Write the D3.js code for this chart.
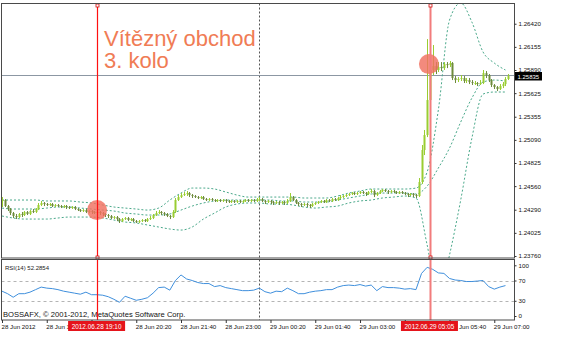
<!DOCTYPE html>
<html><head><meta charset="utf-8">
<script src="https://cdn.jsdelivr.net/npm/d3@7"></script>
<style>body{margin:0;background:#fff}svg{display:block}text{font-family:"Liberation Sans",Arial,sans-serif}</style>
</head><body><svg id="c" width="565" height="357"></svg>
<script>
// ---------- DATA ----------
const startTime = "2012-06-28 16:20";
const barMinutes = 5;
const firstOpen = 1.24390;
const closes = [
1.24401,1.24332,1.24298,1.24252,1.24218,1.24206,1.24241,1.24229,1.24264,1.24241,
1.24275,1.24264,1.24298,1.24344,1.24367,1.24355,1.24344,1.24355,1.24332,1.24344,
1.24332,1.24321,1.24332,1.24321,1.24309,1.24321,1.24298,1.24286,1.24275,1.24286,
1.24264,1.24275,1.24264,1.24252,1.24264,1.24252,1.24241,1.24229,1.24218,1.24195,
1.24206,1.24183,1.24160,1.24183,1.24195,1.24172,1.24183,1.24160,1.24149,1.24160,
1.24172,1.24160,1.24183,1.24195,1.24229,1.24252,1.24264,1.24252,1.24241,1.24218,
1.24206,1.24264,1.24401,1.24435,1.24458,1.24470,1.24481,1.24458,1.24447,1.24435,
1.24424,1.24435,1.24412,1.24401,1.24412,1.24401,1.24390,1.24401,1.24390,1.24401,
1.24390,1.24378,1.24390,1.24378,1.24390,1.24378,1.24390,1.24401,1.24390,1.24401,
1.24390,1.24401,1.24412,1.24390,1.24378,1.24390,1.24378,1.24367,1.24378,1.24367,
1.24378,1.24367,1.24390,1.24435,1.24401,1.24367,1.24355,1.24344,1.24355,1.24344,
1.24332,1.24355,1.24367,1.24378,1.24390,1.24378,1.24401,1.24390,1.24412,1.24401,
1.24424,1.24435,1.24447,1.24458,1.24470,1.24481,1.24470,1.24481,1.24493,1.24481,
1.24470,1.24493,1.24504,1.24458,1.24481,1.24504,1.24516,1.24504,1.24493,1.24504,
1.24493,1.24481,1.24493,1.24481,1.24470,1.24458,1.24470,1.24458,1.24447,1.24607,
1.24974,1.25145,1.25546,1.25890,1.25935,1.25890,1.25924,1.25913,1.25958,1.25947,
1.25970,1.25798,1.25775,1.25787,1.25798,1.25764,1.25775,1.25752,1.25741,1.25741,
1.25729,1.25741,1.25855,1.25832,1.25775,1.25718,1.25695,1.25672,1.25706,1.25729,
1.25787,1.25821];
const highs = [
1.24435,1.24412,1.24344,1.24309,1.24264,1.24241,1.24252,1.24264,1.24275,1.24275,
1.24286,1.24298,1.24309,1.24367,1.24390,1.24378,1.24367,1.24367,1.24367,1.24355,
1.24355,1.24344,1.24344,1.24344,1.24332,1.24332,1.24332,1.24309,1.24298,1.24298,
1.24298,1.24286,1.24286,1.24275,1.24275,1.24275,1.24264,1.24252,1.24241,1.24229,
1.24218,1.24218,1.24195,1.24195,1.24206,1.24206,1.24195,1.24195,1.24172,1.24172,
1.24183,1.24183,1.24195,1.24218,1.24241,1.24275,1.24286,1.24275,1.24264,1.24252,
1.24229,1.24286,1.24424,1.24458,1.24481,1.24493,1.24504,1.24493,1.24470,1.24458,
1.24447,1.24447,1.24447,1.24424,1.24424,1.24424,1.24412,1.24412,1.24412,1.24412,
1.24412,1.24401,1.24401,1.24401,1.24401,1.24401,1.24401,1.24412,1.24412,1.24412,
1.24412,1.24424,1.24435,1.24424,1.24401,1.24401,1.24401,1.24390,1.24390,1.24390,
1.24390,1.24390,1.24412,1.24481,1.24447,1.24412,1.24378,1.24367,1.24367,1.24367,
1.24355,1.24367,1.24378,1.24390,1.24401,1.24401,1.24412,1.24412,1.24424,1.24424,
1.24435,1.24458,1.24458,1.24470,1.24481,1.24493,1.24493,1.24493,1.24504,1.24504,
1.24493,1.24504,1.24527,1.24516,1.24493,1.24516,1.24527,1.24527,1.24516,1.24516,
1.24516,1.24504,1.24504,1.24504,1.24493,1.24481,1.24481,1.24481,1.24470,1.24653,
1.25031,1.25203,1.26244,1.26061,1.26176,1.25981,1.25981,1.25981,1.25981,1.25981,
1.25993,1.25981,1.25821,1.25809,1.25832,1.25821,1.25798,1.25798,1.25775,1.25764,
1.25752,1.25775,1.25890,1.25878,1.25844,1.25787,1.25729,1.25706,1.25729,1.25752,
1.25809,1.25844];
const lows = [
1.24321,1.24321,1.24275,1.24229,1.24195,1.24183,1.24195,1.24206,1.24218,1.24229,
1.24229,1.24252,1.24252,1.24286,1.24332,1.24332,1.24332,1.24332,1.24321,1.24321,
1.24321,1.24309,1.24309,1.24298,1.24298,1.24298,1.24286,1.24275,1.24264,1.24264,
1.24252,1.24252,1.24241,1.24241,1.24241,1.24229,1.24218,1.24206,1.24195,1.24183,
1.24183,1.24160,1.24138,1.24149,1.24172,1.24160,1.24160,1.24149,1.24138,1.24138,
1.24149,1.24149,1.24149,1.24172,1.24183,1.24218,1.24241,1.24229,1.24218,1.24206,
1.24183,1.24195,1.24252,1.24390,1.24424,1.24447,1.24447,1.24435,1.24424,1.24424,
1.24412,1.24412,1.24401,1.24390,1.24390,1.24390,1.24378,1.24378,1.24378,1.24378,
1.24367,1.24367,1.24367,1.24367,1.24367,1.24367,1.24367,1.24378,1.24378,1.24378,
1.24378,1.24378,1.24390,1.24378,1.24355,1.24367,1.24355,1.24344,1.24355,1.24344,
1.24355,1.24344,1.24355,1.24378,1.24390,1.24355,1.24332,1.24321,1.24332,1.24321,
1.24309,1.24321,1.24344,1.24355,1.24367,1.24367,1.24367,1.24378,1.24378,1.24390,
1.24390,1.24412,1.24424,1.24435,1.24447,1.24458,1.24458,1.24458,1.24470,1.24470,
1.24447,1.24458,1.24481,1.24435,1.24447,1.24470,1.24493,1.24493,1.24470,1.24481,
1.24481,1.24470,1.24470,1.24470,1.24458,1.24435,1.24447,1.24435,1.24424,1.24435,
1.24584,1.24916,1.25122,1.25523,1.25832,1.25844,1.25867,1.25878,1.25890,1.25912,
1.25924,1.25775,1.25741,1.25752,1.25764,1.25741,1.25741,1.25729,1.25718,1.25718,
1.25706,1.25718,1.25729,1.25798,1.25752,1.25695,1.25672,1.25649,1.25661,1.25683,
1.25706,1.25775];

// Bollinger bands, one value every 4 bars
const bandStep = 4;
const upperBand = [
1.24401,1.24401,1.24401,1.24401,1.24390,1.24390,1.24390,1.24378,1.24367,1.24344,
1.24321,1.24309,1.24298,1.24286,1.24309,1.24401,1.24481,1.24538,1.24538,1.24527,
1.24493,1.24458,1.24435,1.24435,1.24435,1.24435,1.24435,1.24424,1.24424,1.24424,
1.24447,1.24481,1.24504,1.24527,1.24527,1.24527,1.24527,1.24538,1.24722,1.25432,
1.26462,1.26657,1.26439,1.26096,1.25970,1.25890];
const middleBand = [
1.24309,1.24298,1.24298,1.24298,1.24309,1.24321,1.24321,1.24309,1.24298,1.24286,
1.24275,1.24252,1.24241,1.24229,1.24229,1.24241,1.24286,1.24332,1.24367,1.24390,
1.24401,1.24401,1.24401,1.24401,1.24401,1.24390,1.24390,1.24378,1.24378,1.24378,
1.24401,1.24424,1.24447,1.24470,1.24481,1.24481,1.24481,1.24470,1.24561,1.24767,
1.24996,1.25294,1.25569,1.25752,1.25775,1.25764];
const lowerBand = [
1.24218,1.24195,1.24183,1.24183,1.24183,1.24195,1.24206,1.24206,1.24206,1.24195,
1.24172,1.24149,1.24138,1.24115,1.24092,1.24069,1.24057,1.24092,1.24183,1.24252,
1.24321,1.24355,1.24367,1.24367,1.24355,1.24355,1.24344,1.24321,1.24309,1.24321,
1.24332,1.24367,1.24390,1.24401,1.24424,1.24435,1.24447,1.24424,1.23886,1.23256,
1.23771,1.24401,1.25111,1.25615,1.25638,1.25638];

// RSI(14), one value every 2 bars
const rsiStep = 2;
const rsiValues = [
49,44,37,44,44,47,52,57,55,54,
52,49,47,45,43,47,42,42,41,38,
33,27,39,35,31,33,36,45,56,57,
51,70,81,73,70,66,64,64,58,60,
56,54,52,50,50,51,55,48,45,49,
48,55,50,44,44,47,49,50,52,52,
57,60,61,60,62,59,61,50,58,56,
56,55,53,54,52,84,96,92,85,84,
74,71,70,68,68,69,70,58,53,57,60];

const priceTicks = [1.26420,1.26155,1.25890,1.25625,1.25355,1.25090,1.24825,1.24560,1.24290,1.24025,1.23760];
const priceTickLabels = ["1.26420","1.26155","1.25890","1.25625","1.25355","1.25090","1.24825","1.24560","1.24290","1.24025","1.23760"];
const rsiTicks = [100,70,30,0];
const rsiTickLabels = ["100","70","30","0"];
const rsiLevels = [70,30];
const timeTicks = ["2012-06-28 16:20","2012-06-28 17:40","2012-06-28 19:00","2012-06-28 20:20","2012-06-28 21:40","2012-06-28 23:00",
                   "2012-06-29 00:20","2012-06-29 01:40","2012-06-29 03:00","2012-06-29 04:20","2012-06-29 05:40","2012-06-29 07:00"];
// labels as visible in the picture (partly hidden behind the red time markers)
const timeTickLabels = ["28 Jun 2012","28 Jun 1","","28 Jun 20:20","28 Jun 21:40","28 Jun 23:00",
                        "29 Jun 00:20","29 Jun 01:40","29 Jun 03:00","","Jun 05:40","29 Jun 07:00"];
const daySeparators = ["2012-06-29 00:00"];
const currentPrice = 1.25832;
const currentPriceLabel = "1.25835";
const markerTimes = ["2012-06-28 19:10","2012-06-29 05:05"];
const markerLabels = ["2012.06.28 19:10","2012.06.29 05:05"];
const markerPrices = [1.24286, 1.25958];
const rsiLabel = "RSI(14) 52.2854";
const copyright = "BOSSAFX, \u00a9 2001-2012, MetaQuotes Software Corp.";
const titleLines = ["Vítězný obchod","3. kolo"];

// ---------- LAYOUT ----------
const W = 565, H = 357;
const L = 1.5, R = 514.5, mainTop = 3.5, mainBot = 258, rsiTop = 259.5, rsiBot = 320;
const parse = d3.timeParse("%Y-%m-%d %H:%M");
const t0 = parse(startTime);
const tAt = i => new Date(t0.getTime() + i * barMinutes * 60000);
const n = closes.length;
const x = d3.scaleTime().domain([t0, tAt(n - 1)]).range([2, 2 + (n - 1) * 2.797]);
const bx = i => x(tAt(i));
const y = d3.scaleLinear().domain([1.23737, 1.26646]).range([258, 4]);
const ry = d3.scaleLinear().domain([0, 100]).range([316, 265.3]);

const svg = d3.select("#c");
svg.append("rect").attr("width", W).attr("height", H).attr("fill", "#fff");
const defs = svg.append("defs");
defs.append("clipPath").attr("id", "mainClip").append("rect")
  .attr("x", L).attr("y", mainTop).attr("width", R - L).attr("height", mainBot - mainTop);
defs.append("clipPath").attr("id", "rsiClip").append("rect")
  .attr("x", L).attr("y", rsiTop).attr("width", R - L).attr("height", rsiBot - rsiTop);

// day separator
daySeparators.forEach(s => {
  const xs = Math.round(x(parse(s))) + 0.5;
  svg.append("line").attr("x1", xs).attr("x2", xs).attr("y1", mainTop).attr("y2", rsiBot)
    .attr("stroke", "#555").attr("stroke-dasharray", "2,2");
});

// current price line
const pY = Math.round(y(currentPrice)) + 0.5;
svg.append("line").attr("x1", L).attr("x2", R).attr("y1", pY).attr("y2", pY).attr("stroke", "#8c97a3");

// title
titleLines.forEach((t, i) => {
  svg.append("text").attr("x", 104).attr("y", 45.7 + i * 22.6).attr("font-size", 22)
    .attr("fill", "#f07c55").text(t);
});

const main = svg.append("g").attr("clip-path", "url(#mainClip)");

// bands
const bandLine = d3.line().x((d, k) => bx(k * bandStep)).y(d => y(d)).curve(d3.curveMonotoneX);
[upperBand, middleBand, lowerBand].forEach(b => {
  main.append("path").attr("d", bandLine(b)).attr("fill", "none")
    .attr("stroke", "#4aa88a").attr("stroke-width", 1).attr("stroke-dasharray", "2,2");
});

// candles
const bull = "#9acd32", bear = "#6e8b3d";
closes.forEach((c, i) => {
  const o = i ? closes[i - 1] : firstOpen;
  const cx = Math.round(bx(i));
  const col = c >= o ? bull : bear;
  main.append("line").attr("x1", cx + 0.5).attr("x2", cx + 0.5)
    .attr("y1", y(highs[i])).attr("y2", y(lows[i])).attr("stroke", col);
  const top = y(Math.max(o, c)), bot = y(Math.min(o, c));
  main.append("rect").attr("x", cx - 0.5).attr("width", 2)
    .attr("y", top).attr("height", Math.max(1, bot - top)).attr("fill", col);
});

// marker circles
markerTimes.forEach((t, i) => {
  main.append("circle").attr("cx", x(parse(t)) - (i ? 1 : 0)).attr("cy", y(markerPrices[i])).attr("r", 10)
    .attr("fill", "#f07060").attr("opacity", 0.82);
});

// RSI
svg.append("g").selectAll("line").data(rsiLevels).join("line")
  .attr("x1", L).attr("x2", R).attr("y1", d => Math.round(ry(d)) + 0.5).attr("y2", d => Math.round(ry(d)) + 0.5)
  .attr("stroke", "#b4b4b4").attr("stroke-dasharray", "3,3");
svg.append("path").attr("clip-path", "url(#rsiClip)")
  .attr("d", d3.line().x((d, k) => bx(k * rsiStep)).y(d => ry(d))(rsiValues))
  .attr("fill", "none").attr("stroke", "#3f8fdc").attr("stroke-width", 1);
svg.append("text").attr("x", 5).attr("y", 269.5).attr("font-size", 6).attr("fill", "#222").text(rsiLabel);
svg.append("text").attr("x", 3).attr("y", 317).attr("font-size", 7.6).attr("fill", "#111").text(copyright);

// marker vertical lines
markerTimes.forEach((t, i) => {
  const mx = Math.round(x(parse(t))) + 0.5;
  const col = i ? "#f27c7c" : "#ff1010";
  svg.append("line").attr("x1", mx).attr("x2", mx).attr("y1", mainTop).attr("y2", rsiBot)
    .attr("stroke", col).attr("stroke-width", i ? 2 : 1.2);
  [mainTop + 0.5, mainBot - 2].forEach(sy => {
    svg.append("rect").attr("x", mx - 1.5).attr("y", sy).attr("width", 3).attr("height", 3)
      .attr("fill", "#fff").attr("stroke", "#d01010").attr("stroke-width", 0.8);
  });
});

// panel borders
svg.append("rect").attr("x", L).attr("y", mainTop).attr("width", R - L).attr("height", mainBot - mainTop)
  .attr("fill", "none").attr("stroke", "#4a4a4a");
svg.append("rect").attr("x", L).attr("y", rsiTop).attr("width", R - L).attr("height", rsiBot - rsiTop)
  .attr("fill", "none").attr("stroke", "#4a4a4a");

// axes
function styleAxis(g) {
  g.select(".domain").remove();
  g.selectAll("line").attr("stroke", "#333");
  g.selectAll("text").attr("font-size", 6.2).attr("fill", "#111")
    .attr("font-family", '"Liberation Sans",Arial,sans-serif');
}
svg.append("g").attr("transform", `translate(${R},0)`)
  .call(d3.axisRight(y).tickValues(priceTicks).tickFormat((d, i) => priceTickLabels[i]).tickSize(2).tickPadding(2))
  .call(styleAxis);
svg.append("g").attr("transform", `translate(${R},0)`)
  .call(d3.axisRight(ry).tickValues(rsiTicks).tickFormat((d, i) => rsiTickLabels[i]).tickSize(2).tickPadding(2))
  .call(styleAxis);

// marker label boxes (x extents)
const boxW = 57;
const boxes = markerTimes.map(t => { const mx = x(parse(t)); return [mx - 29, mx - 29 + boxW]; });

const xg = svg.append("g").attr("transform", `translate(0,${rsiBot})`)
  .call(d3.axisBottom(x).tickValues(timeTicks.map(parse)).tickFormat((d, i) => timeTickLabels[i]).tickSize(3).tickPadding(2))
  .call(styleAxis);
xg.selectAll(".tick").each(function (d) {
  const tx = x(d);
  const b = boxes.find(bb => tx >= bb[0] && tx <= bb[1]);
  d3.select(this).select("text").attr("text-anchor", "start").attr("x", b ? b[1] - tx + 0.5 : -1);
});

// current price box
svg.append("rect").attr("x", R + 0.5).attr("y", pY - 3.5).attr("width", 27).attr("height", 8.5).attr("fill", "#000");
svg.append("text").attr("x", R + 3).attr("y", pY + 3.2).attr("font-size", 6).attr("fill", "#fff").text(currentPriceLabel);

// marker time labels
markerTimes.forEach((t, i) => {
  const mx = x(parse(t));
  svg.append("rect").attr("x", boxes[i][0]).attr("y", 321).attr("width", boxW).attr("height", 10).attr("fill", "#e5141b");
  svg.append("text").attr("x", mx - 0.5).attr("y", 328.8).attr("text-anchor", "middle")
    .attr("font-size", 6.4).attr("fill", "#fff").text(markerLabels[i]);
});
</script></body></html>
